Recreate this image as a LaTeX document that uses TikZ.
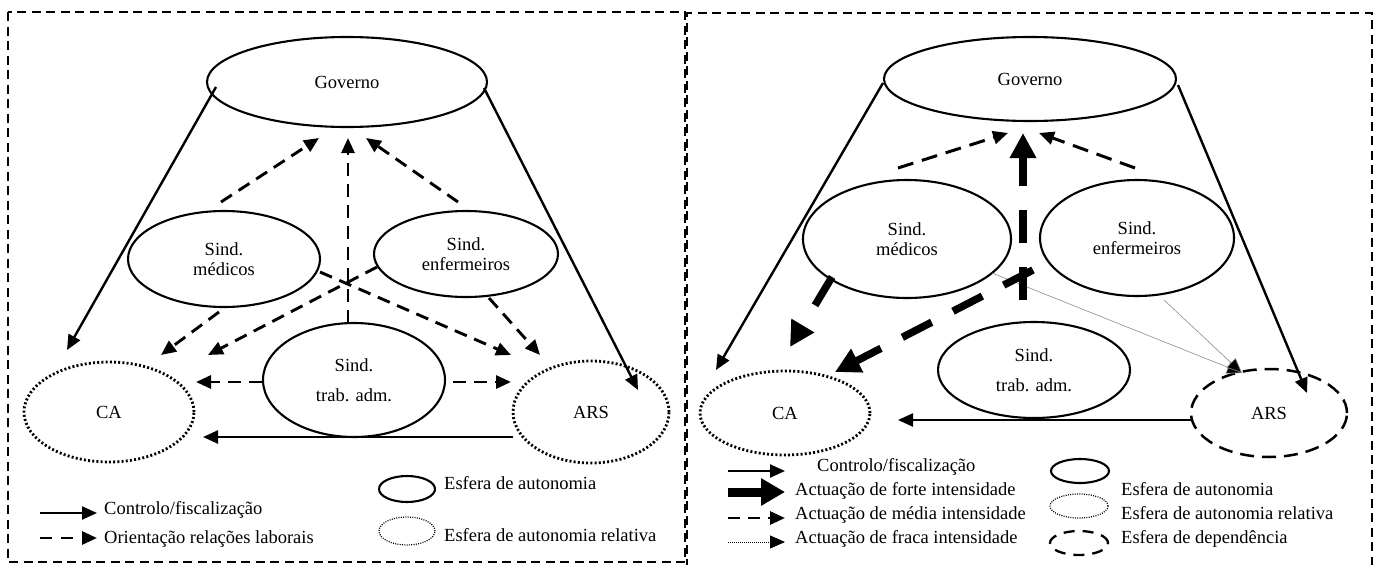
\documentclass[tikz,border=0pt]{standalone}
\usepackage{fontspec}
\setmainfont{Liberation Serif}
\usetikzlibrary{shapes.geometric,arrows.meta,calc}
\tikzset{
  tipA/.tip={Triangle[length=15pt,width=13pt]},
  tipB/.tip={Triangle[length=25pt,width=25pt]},
}
\begin{document}
\begin{tikzpicture}[x=1pt,y=-1pt,
  every node/.style={font=\fontsize{18.5}{20.5}\selectfont},
  ell/.style={ellipse,draw,line width=2.1pt,inner sep=0pt,align=center},
  dotell/.style={ell,line width=2.8pt,dash pattern=on 2pt off 2.2pt},
  dashell/.style={ell,line width=2.5pt,dash pattern=on 14pt off 8pt},
  frame/.style={line width=2.2pt,dash pattern=on 9pt off 5.5pt},
  solarr/.style={line width=2.4pt,-tipA},
  dasharr/.style={line width=2.9pt,dash pattern=on 13pt off 8pt,-tipA},
  medarr/.style={line width=3pt,dash pattern=on 16pt off 9pt,-tipA},
  strongarr/.style={line width=7.5pt,dash pattern=on 33pt off 24pt,-tipB},
  weakarr/.style={line width=0.6pt,draw=black!45,-{Triangle[length=15pt,width=13pt,fill=black]}},
  legtext/.style={anchor=base west,inner sep=0pt},
]
\useasboundingbox (0,0) rectangle (1377,565);

% ---------------- frames ----------------
\draw[frame] (8,12) rectangle (685,562);
\draw[frame] (687,568) -- (687,13) -- (1372,13) -- (1372,568);

% ================= LEFT PANEL =================
\node[ell,minimum width=280pt,minimum height=90pt] (gov1) at (347,82) {Governo};
\node[ell,minimum width=192pt,minimum height=96pt] (med1) at (224,259) {Sind.\\médicos};
\node[ell,minimum width=184pt,minimum height=86pt] (enf1) at (466,254) {Sind.\\enfermeiros};
\node[ell,minimum width=182pt,minimum height=114pt] (adm1) at (354,380) {Sind.\\[10pt]trab. adm.};
\node[dotell,minimum width=170pt,minimum height=100pt] (ca1) at (109,412) {CA};
\node[dotell,minimum width=156pt,minimum height=102pt] (ars1) at (591,412) {ARS};

\draw[solarr] ($(gov1)+(-131,5)$) -- ($(ca1)+(-42,-62)$);
\draw[solarr] ($(gov1)+(137,6)$) -- ($(ars1)+(47,-22)$);
\draw[solarr] ($(ars1)+(-78,25)$) -- ($(ca1)+(94,25)$);

\draw[dasharr] ($(med1)+(-3,-57)$) -- ($(gov1)+(-28,56)$);
\draw[dasharr] ($(adm1)+(-6,-57)$) -- ($(gov1)+(1,56)$);
\draw[dasharr] ($(enf1)+(-8,-52)$) -- ($(gov1)+(19,56)$);
\draw[dasharr] ($(med1)+(96,13)$) -- ($(ars1)+(-80,-57)$);
\draw[dasharr] ($(enf1)+(-89,13)$) -- ($(ca1)+(99,-57)$);
\draw[dasharr] ($(med1)+(-5,53)$) -- ($(ca1)+(52,-57)$);
\draw[dasharr] ($(enf1)+(23,44)$) -- ($(ars1)+(-51,-57)$);
\draw[dasharr] ($(adm1)+(-92,2)$) -- ($(ca1)+(87,-30)$);
\draw[dasharr] ($(adm1)+(99,2)$) -- ($(ars1)+(-80,-30)$);

% legend left
\coordinate (la1) at (40,513); \coordinate (lb1) at (97,513);
\coordinate (la2) at (40,538); \coordinate (lb2) at (97,538);
\draw[solarr] (la1) -- (lb1);
\draw[dasharr,dash pattern=on 12pt off 9pt] (la2) -- (lb2);
\node[legtext] (lt1) at (104,514) {Controlo/fiscalização};
\node[legtext] (lt2) at (104,543) {Orientação relações laborais};
\node[ell,minimum width=56pt,minimum height=26pt] (le1) at (407,489) {};
\node[ell,line width=1.2pt,dash pattern=on 1pt off 1.3pt,minimum width=56pt,minimum height=28pt] (le2) at (407,531) {};
\node[legtext] (lt3) at (444,489) {Esfera de autonomia};
\node[legtext] (lt4) at (444,541) {Esfera de autonomia relativa};

% ================= RIGHT PANEL =================
\node[ell,minimum width=292pt,minimum height=84pt] (gov2) at (1030,79) {Governo};
\node[ell,minimum width=208pt,minimum height=118pt] (med2) at (907,239) {Sind.\\médicos};
\node[ell,minimum width=194pt,minimum height=116pt] (enf2) at (1137,238) {Sind.\\enfermeiros};
\node[ell,minimum width=192pt,minimum height=96pt] (adm2) at (1034,370) {Sind.\\[9pt]trab. adm.};
\node[dotell,minimum width=170pt,minimum height=84pt] (ca2) at (785,413) {CA};
\node[dashell,minimum width=156pt,minimum height=88pt] (ars2) at (1269,413) {ARS};

\draw[solarr] ($(gov2)+(-147,4)$) -- ($(ca2)+(-69,-43)$);
\draw[solarr] ($(gov2)+(148,6)$) -- ($(ars2)+(38,-20)$);
\draw[solarr] ($(ars2)+(-78,7)$) -- ($(ca2)+(113,7)$);

\draw[medarr] ($(med2)+(-9,-71)$) -- ($(gov2)+(-22,54)$);
\draw[medarr] ($(enf2)+(-2,-70)$) -- ($(gov2)+(9,54)$);

\draw[weakarr] ($(med2)+(85,34)$) -- ($(ars2)+(-27,-40)$);
\draw[weakarr] ($(enf2)+(27,62)$) -- ($(ars2)+(-27,-40)$);

\draw[strongarr] ($(adm2)+(-11,-70)$) -- ($(gov2)+(-7,54)$);
\draw[strongarr] ($(med2)+(-75,38)$) -- ($(ca2)+(5,-66)$);
\draw[strongarr] ($(adm2)+(-1,-100)$) -- ($(ca2)+(50,-41)$);

% legend right
\coordinate (ra1) at (728,471); \coordinate (rb1) at (785,471);
\coordinate (ra2) at (728,492); \coordinate (rb2) at (785,492);
\coordinate (ra3) at (728,518); \coordinate (rb3) at (785,518);
\coordinate (ra4) at (728,542); \coordinate (rb4) at (785,542);
\draw[solarr] (ra1) -- (rb1);
\draw[line width=9pt,-{Triangle[length=24pt,width=26pt]}] (ra2) -- (rb2);
\draw[dasharr,dash pattern=on 12pt off 8pt] (ra3) -- (rb3);
\draw[line width=1pt,dash pattern=on 1pt off 1pt,-{Triangle[length=15pt,width=13pt]}] (ra4) -- (rb4);
\node[legtext] (rt1) at (817,471) {Controlo/fiscalização};
\node[legtext] (rt2) at (795,495) {Actuação de forte intensidade};
\node[legtext] (rt3) at (795,519) {Actuação de média intensidade};
\node[legtext] (rt4) at (795,543) {Actuação de fraca intensidade};
\node[ell,minimum width=58pt,minimum height=24pt] (re1) at (1080,471) {};
\node[ell,line width=1.2pt,dash pattern=on 1pt off 1.3pt,minimum width=58pt,minimum height=24pt] (re2) at (1079,506) {};
\node[ell,line width=2.3pt,dash pattern=on 11pt off 8pt,minimum width=58pt,minimum height=24pt] (re3) at (1079,543) {};
\node[legtext] (rt5) at (1121,495) {Esfera de autonomia};
\node[legtext] (rt6) at (1121,519) {Esfera de autonomia relativa};
\node[legtext] (rt7) at (1121,543) {Esfera de dependência};
\end{tikzpicture}
\end{document}
